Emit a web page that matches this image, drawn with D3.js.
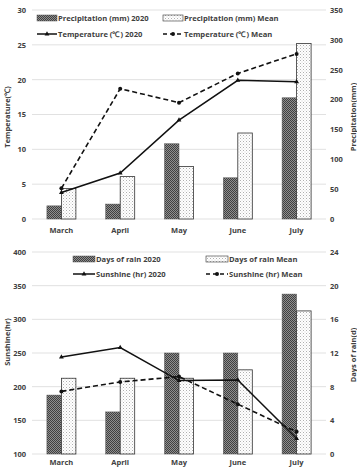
<!DOCTYPE html>
<html><head><meta charset="utf-8">
<script src="https://cdn.jsdelivr.net/npm/d3@7"></script>
<style>
body{margin:0;background:#fff;}
text{font-family:"Open Sans","Liberation Sans",Arial,sans-serif;font-weight:700;}
</style></head>
<body><svg id="c" width="357" height="468"></svg>
<script>
const months = ["March","April","May","June","July"];
const precip2020 = [22, 25, 126, 69, 203];
const precipMean = [51, 71, 88, 144, 294];
const temp2020 = [3.8, 6.6, 14.2, 19.9, 19.7];
const tempMean = [4.4, 18.7, 16.7, 20.9, 23.7];
const rain2020 = [7, 5, 12, 12, 19];
const rainMean = [9, 9, 9, 10, 17];
const sun2020 = [244, 258, 209, 210, 123];
const sunMean = [193, 207, 215, 174, 133];
const tempTicks = [0,5,10,15,20,25,30];
const precipTicks = [0,50,100,150,200,250,300,350];
const sunTicks = [100,150,200,250,300,350,400];
const rainTicks = [0,4,8,12,16,20,24];

const svg = d3.select("#c");
const defs = svg.append("defs");
const p1 = defs.append("pattern").attr("id","dark").attr("patternUnits","userSpaceOnUse").attr("width",2).attr("height",2);
p1.append("rect").attr("width",2).attr("height",2).attr("fill","#8f8f8f");
p1.append("rect").attr("width",1).attr("height",1).attr("fill","#404040");
p1.append("rect").attr("x",1).attr("y",1).attr("width",1).attr("height",1).attr("fill","#404040");
const p2 = defs.append("pattern").attr("id","light").attr("patternUnits","userSpaceOnUse").attr("width",3).attr("height",3);
p2.append("rect").attr("width",3).attr("height",3).attr("fill","#fff");
p2.append("rect").attr("width",1).attr("height",1).attr("fill","#b0b0b0");
p2.append("rect").attr("x",1.5).attr("y",1.5).attr("width",1).attr("height",1).attr("fill","#d0d0d0");

const X0 = 32, X1 = 326;
const x = d3.scaleBand().domain(months).range([X0, X1]);
const bw = x.bandwidth();
const xs = d3.scaleBand().domain(["a","b"]).range([bw/2-14.5, bw/2+14.5]);
const cx = m => x(m) + bw/2;

function panel(o){
  const g = svg.append("g");
  const yl = d3.scaleLinear().domain(o.ldom).range([o.yb, o.yt]);
  const yr = d3.scaleLinear().domain(o.rdom).range([o.yb, o.yt]);
  g.selectAll(".grid").data(o.lticks).join("line")
    .attr("x1",X0).attr("x2",X1).attr("y1",d=>yl(d)).attr("y2",d=>yl(d))
    .attr("stroke","#d9d9d9").attr("stroke-width",0.8);
  const la = g.append("g").attr("transform",`translate(${X0-6},0)`)
    .call(d3.axisLeft(yl).tickValues(o.lticks).tickSize(0).tickPadding(0));
  la.select(".domain").remove();
  la.selectAll("text").attr("font-size",7.5).attr("fill","#404040").attr("font-weight",700);
  const ra = g.append("g").attr("transform",`translate(${X1+4},0)`)
    .call(d3.axisRight(yr).tickValues(o.rticks).tickSize(0).tickPadding(0));
  ra.select(".domain").remove();
  ra.selectAll("text").attr("font-size",7.5).attr("fill","#404040").attr("font-weight",700);
  g.selectAll(".xl").data(months).join("text")
    .attr("x",d=>cx(d)).attr("y",o.xly).attr("text-anchor","middle")
    .attr("font-size",7.5).attr("fill","#404040").text(d=>d);
  g.append("text").attr("transform",`translate(10,${o.ltc}) rotate(-90)`).attr("text-anchor","middle")
    .attr("font-size",7.5).attr("fill","#404040").text(o.ltitle);
  g.append("text").attr("transform",`translate(356,${o.rtc}) rotate(-90)`).attr("text-anchor","middle")
    .attr("font-size",7.5).attr("fill","#404040").text(o.rtitle);
  const ba = g.append("g");
  months.forEach((m,i)=>{
    ba.append("rect").attr("x",x(m)+xs("a")).attr("width",xs.bandwidth())
      .attr("y",yr(o.b1[i])).attr("height",yr(o.rdom[0])-yr(o.b1[i]))
      .attr("fill","url(#dark)").attr("stroke","#555").attr("stroke-width",0.5);
    ba.append("rect").attr("x",x(m)+xs("b")).attr("width",xs.bandwidth())
      .attr("y",yr(o.b2[i])).attr("height",yr(o.rdom[0])-yr(o.b2[i]))
      .attr("fill","url(#light)").attr("stroke","#333").attr("stroke-width",0.8);
  });
  const line = d3.line().x((d,i)=>cx(months[i])).y(d=>yl(d));
  g.append("path").datum(o.l2).attr("d",line).attr("fill","none").attr("stroke","#111")
    .attr("stroke-width",1.6).attr("stroke-dasharray","5,3");
  g.selectAll(".m2").data(o.l2).join("circle").attr("cx",(d,i)=>cx(months[i])).attr("cy",d=>yl(d))
    .attr("r",2).attr("fill","#111");
  g.append("path").datum(o.l1).attr("d",line).attr("fill","none").attr("stroke","#111").attr("stroke-width",1.5);
  const tri = d3.symbol().type(d3.symbolTriangle).size(10);
  g.selectAll(".m1").data(o.l1).join("path").attr("d",tri)
    .attr("transform",(d,i)=>`translate(${cx(months[i])},${yl(d)})`).attr("fill","#111");
  const L = o.leg;
  const lg = g.append("g");
  lg.append("rect").attr("x",L.x1).attr("y",L.y1-3).attr("width",L.sw).attr("height",6)
    .attr("fill","url(#dark)").attr("stroke","#555").attr("stroke-width",0.5);
  lg.append("text").attr("x",L.x1+L.sw+1).attr("y",L.y1+3).attr("font-size",7.6).attr("fill","#404040").text(L.t1);
  lg.append("rect").attr("x",L.x2).attr("y",L.y1-3).attr("width",L.sw).attr("height",6)
    .attr("fill","url(#light)").attr("stroke","#333").attr("stroke-width",0.6);
  lg.append("text").attr("x",L.x2+L.sw+1).attr("y",L.y1+3).attr("font-size",7.6).attr("fill","#404040").text(L.t2);
  lg.append("line").attr("x1",L.x1).attr("x2",L.x1+L.sw).attr("y1",L.y2).attr("y2",L.y2).attr("stroke","#111").attr("stroke-width",1.5);
  lg.append("path").attr("d",tri).attr("transform",`translate(${L.x1+L.sw/2},${L.y2})`).attr("fill","#111");
  lg.append("text").attr("x",L.x1+L.sw+1).attr("y",L.y2+3).attr("font-size",7.6).attr("fill","#404040").text(L.t3);
  lg.append("line").attr("x1",L.x2).attr("x2",L.x2+L.sw).attr("y1",L.y2).attr("y2",L.y2).attr("stroke","#111").attr("stroke-width",1.5).attr("stroke-dasharray","4,3");
  lg.append("circle").attr("cx",L.x2+L.sw/2).attr("cy",L.y2).attr("r",2).attr("fill","#111");
  lg.append("text").attr("x",L.x2+L.sw+1).attr("y",L.y2+3).attr("font-size",7.6).attr("fill","#404040").text(L.t4);
}

panel({yt:10, yb:219, xly:233, ldom:[0,30], rdom:[0,350], lticks:tempTicks, rticks:precipTicks,
  b1:precip2020, b2:precipMean, l1:temp2020, l2:tempMean,
  ltitle:"Temperature(℃)", rtitle:"Precipitation(mm)", ltc:117, rtc:117,
  leg:{x1:37, x2:163, y1:18, y2:34, sw:20,
    t1:"Precipitation (mm) 2020", t2:"Precipitation (mm) Mean",
    t3:"Temperature (℃) 2020", t4:"Temperature (℃) Mean"}});

panel({yt:252, yb:454, xly:465, ldom:[100,400], rdom:[0,24], lticks:sunTicks, rticks:rainTicks,
  b1:rain2020, b2:rainMean, l1:sun2020, l2:sunMean,
  ltitle:"Sunshine(hr)", rtitle:"Days of rain(d)", ltc:342, rtc:355,
  leg:{x1:73, x2:206, y1:259, y2:274, sw:22,
    t1:"Days of rain 2020", t2:"Days of rain Mean",
    t3:"Sunshine (hr) 2020", t4:"Sunshine (hr) Mean"}});
</script></body></html>
